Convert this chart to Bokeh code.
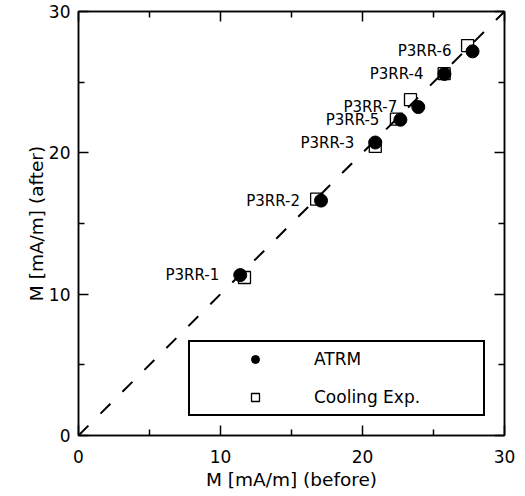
from bokeh.plotting import figure
from bokeh.models import (Range1d, FixedTicker, LinearAxis, Slope, Legend, LegendItem,
                          ColumnDataSource)
from bokeh.core.properties import value
from bokeh.embed import file_html
from bokeh.resources import INLINE

samples = ["P3RR-1", "P3RR-2", "P3RR-3", "P3RR-4", "P3RR-5", "P3RR-6", "P3RR-7"]
atrm_before = [11.39, 17.08, 20.90, 25.77, 22.67, 27.75, 23.93]
atrm_after = [11.35, 16.62, 20.73, 25.58, 22.34, 27.18, 23.24]
cool_before = [11.69, 16.77, 20.90, 25.75, 22.39, 27.40, 23.38]
cool_after = [11.18, 16.72, 20.45, 25.60, 22.39, 27.59, 23.76]

major_ticks = [0, 10, 20, 30]
minor_ticks = [5, 15, 25]

FONT = "DejaVu Sans"

p = figure(frame_width=426, frame_height=424, output_backend="svg", toolbar_location=None,
           x_range=Range1d(0, 30), y_range=Range1d(0, 30),
           min_border_left=78, min_border_top=11, min_border_right=13, min_border_bottom=48,
           x_axis_label="M [mA/m] (before)", y_axis_label="M [mA/m] (after)")
p.background_fill_color = "white"
p.border_fill_color = "white"
p.grid.visible = False
p.outline_line_color = "black"
p.outline_line_width = 1.5

def style_axis(ax, labels=True):
    ax.ticker = FixedTicker(ticks=major_ticks, minor_ticks=minor_ticks)
    ax.axis_line_color = "black"
    ax.axis_line_width = 1.5
    ax.major_tick_in = 10
    ax.major_tick_out = 0
    ax.minor_tick_in = 6
    ax.minor_tick_out = 0
    ax.major_tick_line_width = 1.5
    ax.minor_tick_line_width = 1.5
    ax.major_tick_line_color = "black"
    ax.minor_tick_line_color = "black"
    if labels:
        ax.major_label_text_font = FONT
        ax.major_label_text_font_size = "17px"
        ax.major_label_text_color = "black"
        ax.major_label_standoff = 8
        ax.axis_label_text_font = FONT
        ax.axis_label_text_font_size = "18.5px"
        ax.axis_label_text_font_style = "normal"
        ax.axis_label_text_color = "black"
    else:
        ax.major_label_overrides = {t: "" for t in major_ticks}
        ax.major_label_standoff = 0

for ax in p.xaxis:
    style_axis(ax)
    ax.major_label_standoff = 14
    ax.axis_label_standoff = 3
for ax in p.yaxis:
    style_axis(ax)
    ax.axis_label_standoff = -1

top = LinearAxis()
style_axis(top, labels=False)
p.add_layout(top, "above")
right = LinearAxis()
style_axis(right, labels=False)
p.add_layout(right, "right")

p.add_layout(Slope(gradient=1, y_intercept=0, line_color="black", line_width=2,
                   line_dash="14 17"))

src = ColumnDataSource(dict(name=samples, ax=atrm_before, ay=atrm_after,
                            cx=cool_before, cy=cool_after))

r_circ = p.scatter("ax", "ay", source=src, marker="circle", size=13,
                   fill_color="black", line_color="black")
r_sq = p.scatter("cx", "cy", source=src, marker="square", size=12,
                 fill_alpha=0, line_color="black", line_width=1.3)

p.text("ax", "ay", text="name", source=src, x_offset=-21, text_align="right",
       text_baseline="middle", text_font=value(FONT), text_font_size="15px",
       text_color="black")

legend = Legend(items=[LegendItem(label="ATRM", renderers=[r_circ]),
                       LegendItem(label="Cooling Exp.", renderers=[r_sq])],
                location=(110, 19), margin=0, padding=7,
                glyph_width=116, glyph_height=20, label_height=20,
                label_standoff=1, label_width=162, spacing=18,
                border_line_color="black", border_line_width=2, border_line_alpha=1,
                background_fill_color="white", background_fill_alpha=1,
                label_text_font=FONT, label_text_font_size="17px",
                label_text_color="black")
p.add_layout(legend, "center")

open("out.html", "w").write(file_html(p, INLINE))
